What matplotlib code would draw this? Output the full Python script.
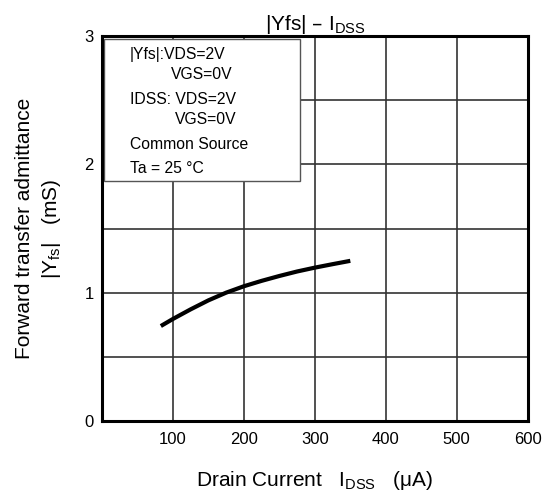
import matplotlib.pyplot as plt
from matplotlib.patches import Rectangle

plt.rcParams['font.family'] = ['Liberation Sans', 'DejaVu Sans']

# кривая |Yfs| от IDSS
idss = [83, 100, 125, 150, 175, 200, 225, 250, 275, 300, 325, 350]
yfs = [0.74, 0.795, 0.87, 0.94, 1.0, 1.05, 1.092, 1.13, 1.165, 1.195, 1.222, 1.248]

x_ticks = [100, 200, 300, 400, 500, 600]
y_ticks = [0, 1, 2, 3]

legend_lines = ["|Yfs|:VDS=2V", "VGS=0V", "IDSS: VDS=2V", "VGS=0V",
                "Common Source", "Ta = 25 °C"]

fig = plt.figure(figsize=(5.48, 5.0), dpi=100)
ax = fig.add_axes([0.186, 0.158, 0.777, 0.77])

ax.plot(idss, yfs, color='black', lw=3.0, solid_capstyle='butt',
        solid_joinstyle='round', zorder=5)

ax.set_xlim(0, 600)
ax.set_ylim(0, 3)
ax.set_xticks(x_ticks)
ax.set_yticks(y_ticks)
ax.set_yticks([0.5, 1.5, 2.5], minor=True)
ax.grid(which='both', color='#333333', lw=1.2)
ax.tick_params(which='both', length=0, labelsize=12)
ax.tick_params(axis='x', pad=8)
ax.tick_params(axis='y', pad=6)
for s in ax.spines.values():
    s.set_linewidth(2.2)
    s.set_zorder(6)

ax.set_title("|Yfs| – I$_{\\mathregular{DSS}}$", fontsize=15, pad=4)
ax.set_xlabel("Drain Current   I$_{\\mathregular{DSS}}$   (μA)", fontsize=15, labelpad=16)
ax.set_ylabel("Forward transfer admittance\n|Y$_{\\mathregular{fs}}$|   (mS)", fontsize=15,
              labelpad=15, linespacing=1.35)

# легенда с условиями измерения
box = Rectangle((0.005, 0.623), 0.46, 0.369, transform=ax.transAxes,
                facecolor='white', edgecolor='#555555', lw=1.0, zorder=3)
ax.add_patch(box)
xs = [0.066, 0.162, 0.066, 0.172, 0.066, 0.066]
ys = [0.953, 0.901, 0.834, 0.782, 0.717, 0.657]
for t, xx, yy in zip(legend_lines, xs, ys):
    ax.text(xx, yy, t, transform=ax.transAxes, fontsize=11.3,
            va='center', ha='left', zorder=4)

fig.savefig('out.png', dpi=100)
